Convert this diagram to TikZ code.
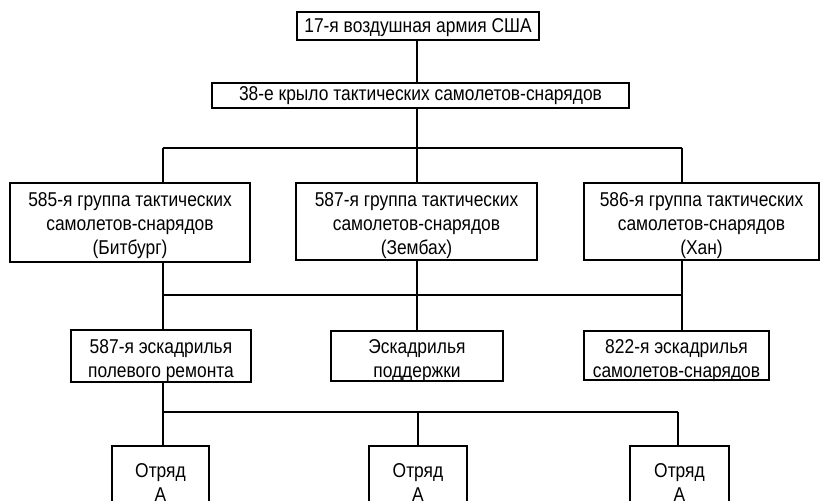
\documentclass[tikz,border=0pt]{standalone}
\usepackage{fontspec}
\setmainfont[FakeStretch=0.87]{Liberation Sans}
\begin{document}
\begin{tikzpicture}[x=1pt,y=-1pt,
  box/.style={draw=black,line width=1.6pt,fill=white,inner sep=0pt},
  lbl/.style={align=center,inner sep=0pt,font=\fontsize{20}{24}\selectfont},
  conn/.style={draw=black,line width=1.4pt}]
\path[use as bounding box] (0,0) rectangle (820,501);
\clip (0,0) rectangle (820,501);
% boxes
\node[box,minimum width=242pt,minimum height=28pt] (top) at (418,26) {};
\node[box,minimum width=417pt,minimum height=25pt] (wing) at (420.5,95.5) {};
\node[box,minimum width=240pt,minimum height=79pt] (g585) at (130,222.5) {};
\node[box,minimum width=241pt,minimum height=77pt] (g587) at (416.5,221.5) {};
\node[box,minimum width=235pt,minimum height=77pt] (g586) at (701.5,221.5) {};
\node[box,minimum width=180pt,minimum height=52pt] (s587) at (161,356) {};
\node[box,minimum width=172pt,minimum height=50pt] (ssup) at (417,356) {};
\node[box,minimum width=185pt,minimum height=49pt] (s822) at (676.5,355.5) {};
\node[box,minimum width=97pt,minimum height=70pt] (o1) at (160.5,481) {};
\node[box,minimum width=98pt,minimum height=70pt] (o2) at (418,481) {};
\node[box,minimum width=99pt,minimum height=70pt] (o3) at (679.5,481) {};
% texts
\node[lbl] (topt) at ([yshift=-1.5pt]top.center) {17-я воздушная армия США};
\node[lbl] (wingt) at ([yshift=-0.5pt]wing.center) {38-е крыло тактических самолетов-снарядов};
\node[lbl] (g585t) at ([yshift=-3.5pt]g585.center) {585-я группа тактических\\самолетов-снарядов\\(Битбург)};
\node[lbl] (g587t) at ([yshift=-4pt]g587.center) {587-я группа тактических\\самолетов-снарядов\\(Зембах)};
\node[lbl] (g586t) at ([yshift=-4pt]g586.center) {586-я группа тактических\\самолетов-снарядов\\(Хан)};
\node[lbl] (s587t) at ([yshift=-5pt]s587.center) {587-я эскадрилья\\полевого ремонта};
\node[lbl] (ssupt) at ([yshift=-5pt]ssup.center) {Эскадрилья\\поддержки};
\node[lbl] (s822t) at ([yshift=-5pt]s822.center) {822-я эскадрилья\\самолетов-снарядов};
\node[lbl] (o1t) at ([yshift=-2pt]o1.center) {Отряд\\А};
\node[lbl] (o2t) at ([yshift=-2pt]o2.center) {Отряд\\А};
\node[lbl] (o3t) at ([yshift=-2pt]o3.center) {Отряд\\А};
% bus coordinates
\coordinate (b1l) at (163,148);
\coordinate (b1m) at (417,148);
\coordinate (b1r) at (682,148);
\coordinate (b2l) at (163,295);
\coordinate (b2m) at (417,295);
\coordinate (b2r) at (682,295);
\coordinate (b3l) at (163,412);
\coordinate (b3m) at (418,412);
\coordinate (b3r) at (678,412);
% connectors
\draw[conn] (top.south -| b1m) -- (wing.north -| b1m);
\draw[conn] (wing.south -| b1m) -- (b1m);
\draw[conn] (b1l) -- (b1r);
\draw[conn] (b1l) -- (g585.north -| b1l);
\draw[conn] (b1m) -- (g587.north -| b1m);
\draw[conn] (b1r) -- (g586.north -| b1r);
\draw[conn] (g585.south -| b2l) -- (b2l);
\draw[conn] (g587.south -| b2m) -- (b2m);
\draw[conn] (g586.south -| b2r) -- (b2r);
\draw[conn] (b2l) -- (b2r);
\draw[conn] (b2l) -- (s587.north -| b2l);
\draw[conn] (b2m) -- (ssup.north -| b2m);
\draw[conn] (b2r) -- (s822.north -| b2r);
\draw[conn] (s587.south -| b3l) -- (b3l);
\draw[conn] (b3l) -- (b3r);
\draw[conn] (b3l) -- (o1.north -| b3l);
\draw[conn] (b3m) -- (o2.north -| b3m);
\draw[conn] (b3r) -- (o3.north -| b3r);
\end{tikzpicture}
\end{document}
